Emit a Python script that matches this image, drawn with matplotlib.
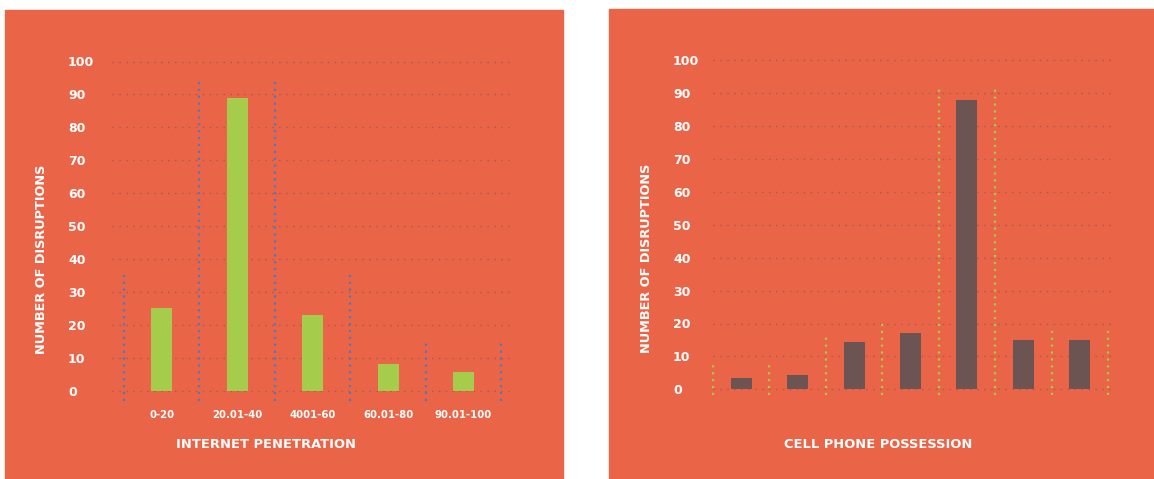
import matplotlib.pyplot as plt
from matplotlib.patches import Rectangle
import numpy as np

# internet penetration panel
net_cats = ["0-20", "20.01-40", "4001-60", "60.01-80", "90.01-100"]
net_vals = [25, 89, 23, 8, 5.7]
net_seps = [35, 94, 94, 36, 15, 15]   # heights of the dotted dividers

# cell phone possession panel
cell_vals = [3.3, 4.3, 14.3, 17, 88, 15, 15]
cell_seps = [7.5, 7.5, 16, 20, 92.5, 92.5, 18, 18]

y_ticks = list(range(0, 101, 10))

W, H = 1154, 479
ORANGE = '#EA6448'
GRID = '#a45a55'

fig = plt.figure(figsize=(W / 100, H / 100), dpi=100)
fig.patch.set_facecolor('white')

# orange background cards
for x0, x1, y0, y1 in [(5, 563, 10, 479), (609, 1154, 9, 479)]:
    fig.patches.append(Rectangle((x0 / W, 1 - y1 / H), (x1 - x0) / W, (y1 - y0) / H,
                                 transform=fig.transFigure, color=ORANGE, zorder=-5))


def make_panel(px, ylim, xlim, vals, seps, sep_bottom, bar_w, bar_col, sep_col,
               cats, xlabel, xlab_px, ylab_px, tick_x):
    x0, x1, ytop, ybot = px
    ax = fig.add_axes([x0 / W, 1 - ybot / H, (x1 - x0) / W, (ybot - ytop) / H])
    ax.set_facecolor('none')
    ax.set_xlim(*xlim)
    ax.set_ylim(*ylim)
    for s in ax.spines.values():
        s.set_visible(False)

    for t in y_ticks:
        ax.axhline(t, color=GRID, lw=1.0, ls=(0, (1, 4)), zorder=1)

    x = np.arange(len(vals))
    ax.bar(x, vals, width=bar_w, color=bar_col, zorder=2)
    ax.vlines(np.arange(len(seps)) - 0.5, sep_bottom, seps, colors=sep_col,
              lw=1.6, linestyles=(0, (1, 2.1)), zorder=3, clip_on=False)

    ax.set_yticks(y_ticks)
    ax.tick_params(axis='y', length=0, pad=(x0 - tick_x) * 0.72,
                   labelsize=9, labelcolor='white')
    for lab in ax.get_yticklabels():
        lab.set_ha('left')
        lab.set_fontweight('bold')
    if cats:
        ax.set_xticks(x, cats)
        ax.tick_params(axis='x', length=0, pad=2, labelsize=7.3, labelcolor='white')
        for lab in ax.get_xticklabels():
            lab.set_fontweight('bold')
    else:
        ax.set_xticks([])

    ax.set_xlabel(xlabel, color='white', fontsize=9.4, fontweight='bold', va='center')
    ax.xaxis.set_label_coords((xlab_px[0] - x0) / (x1 - x0), (ybot - xlab_px[1]) / (ybot - ytop))
    ax.set_ylabel('NUMBER OF DISRUPTIONS', color='white', fontsize=9.3,
                  fontweight='bold', va='center')
    ax.yaxis.set_label_coords((ylab_px[0] - x0) / (x1 - x0), (ybot - ylab_px[1]) / (ybot - ytop))
    return ax


# left: y px = 390.5 - 3.29 * v ; x px = 124 + 75.46 * (i + 0.5)
make_panel((112, 510, 390.5 - 3.29 * 101, 390.5 + 3.29 * 5), (-5, 101),
           (-0.5 - 12 / 75.46, 4.5 + 8.7 / 75.46),
           net_vals, net_seps, -3.3, 0.28, '#A6CC4C', '#4F79B8',
           net_cats, 'INTERNET PENETRATION', (266.5, 445), (41.5, 259.5), 68)

# right: y px = 389.3 - 3.29 * v ; x px = 713 + 56.43 * (i + 0.5)
make_panel((713, 1115, 389.3 - 3.29 * 101, 389.3 + 3.29 * 5), (-5, 101),
           (-0.5, 6.5 + 7 / 56.43),
           cell_vals, cell_seps, -1.8, 0.37, '#6C5452', '#A8C94A',
           None, 'CELL PHONE POSSESSION', (878.5, 444), (646, 258), 673)

fig.savefig('out.png', dpi=100, facecolor='white')
